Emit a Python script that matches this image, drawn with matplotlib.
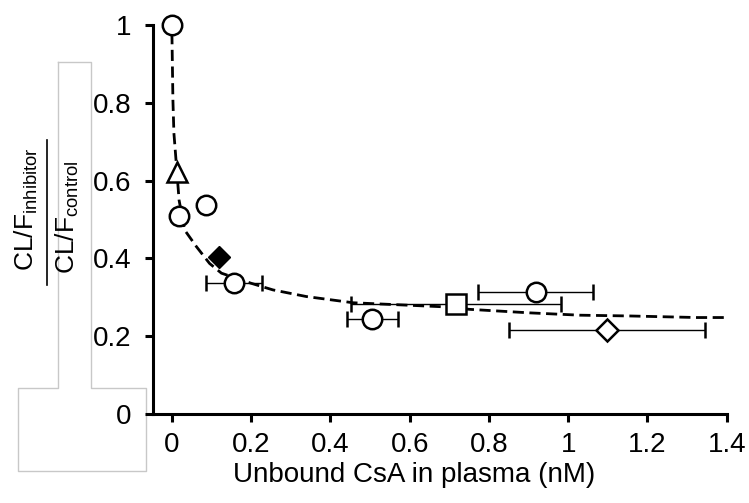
import numpy as np
import matplotlib
matplotlib.use("Agg")
import matplotlib.pyplot as plt
from matplotlib.lines import Line2D

plt.rcParams['font.family'] = ['Liberation Sans', 'DejaVu Sans']
plt.rcParams['mathtext.fontset'] = 'custom'
plt.rcParams['mathtext.rm'] = 'Liberation Sans'
plt.rcParams['mathtext.it'] = 'Liberation Sans'

# open circles (studies), with optional horizontal error
circ_x = [0.0, 0.018, 0.086, 0.157, 0.506, 0.918]
circ_y = [1.0, 0.509, 0.536, 0.338, 0.243, 0.314]
circ_xerr = [0.0, 0.0, 0.0, 0.07, 0.065, 0.145]

tri_x, tri_y = [0.012], [0.623]
fdia_x, fdia_y = [0.12], [0.403]
sq_x, sq_y, sq_xerr = [0.717], [0.282], [0.265]
odia_x, odia_y, odia_xerr = [1.098], [0.216], [0.248]

# dashed fitted curve
fit_x = [0.0, 0.0025, 0.005, 0.011, 0.018, 0.032, 0.062, 0.095, 0.125, 0.2,
         0.255, 0.339, 0.457, 0.676, 0.752, 0.903, 1.03, 1.156, 1.325, 1.404]
fit_y = [0.979, 0.807, 0.722, 0.644, 0.55, 0.473, 0.43, 0.387, 0.362, 0.336,
         0.319, 0.302, 0.286, 0.276, 0.269, 0.26, 0.254, 0.252, 0.248, 0.248]

x_ticks = [0, 0.2, 0.4, 0.6, 0.8, 1, 1.2, 1.4]
x_ticklabels = ['0', '0.2', '0.4', '0.6', '0.8', '1', '1.2', '1.4']
y_ticks = [0, 0.2, 0.4, 0.6, 0.8, 1]
y_ticklabels = ['0', '0.2', '0.4', '0.6', '0.8', '1']

W, H = 749, 503
fig = plt.figure(figsize=(W / 100, H / 100), dpi=100)

def fx(px):
    return px / W

def fy(py):
    return 1 - py / H

# grey outline left over in the original figure
poly_px = [(58, 62), (91, 62), (91, 388), (146, 388), (146, 471),
           (18, 471), (18, 388), (58, 388), (58, 62)]
fig.add_artist(Line2D([fx(p[0]) for p in poly_px], [fy(p[1]) for p in poly_px],
                      transform=fig.transFigure, color='#c8c8c8', lw=1.0, zorder=0))

ax = fig.add_axes([fx(153.3), fy(414), (726.7 - 153.3) / W, (414 - 25) / H])
ax.patch.set_alpha(0)

ax.plot(fit_x, fit_y, color='black', lw=2.0, ls=(0, (4, 2)), zorder=2)

mk = dict(markerfacecolor='white', markeredgecolor='black', markeredgewidth=1.8,
          ecolor='black', elinewidth=1.0, capsize=5.5, capthick=1.0, ls='none',
          clip_on=False, zorder=3)
for x, y, e in zip(circ_x, circ_y, circ_xerr):
    ax.errorbar([x], [y], xerr=[e] if e > 0 else None, marker='o', markersize=14, **mk)
ax.errorbar(sq_x, sq_y, xerr=sq_xerr, marker='s', markersize=14.5, **mk)
ax.errorbar(odia_x, odia_y, xerr=odia_xerr, marker='D', markersize=11, **mk)
ax.plot(tri_x, tri_y, marker='^', markersize=15, ls='none', markerfacecolor='white',
        markeredgecolor='black', markeredgewidth=1.8, zorder=3, clip_on=False)
ax.plot(fdia_x, fdia_y, marker='D', markersize=11.5, ls='none', color='black',
        zorder=3, clip_on=False)

ax.set_xlim(-0.047, 1.4)
ax.set_ylim(0, 1)
ax.set_xticks(x_ticks)
ax.set_xticklabels(x_ticklabels)
ax.set_yticks(y_ticks)
ax.set_yticklabels(y_ticklabels)
for s in ['top', 'right']:
    ax.spines[s].set_visible(False)
for s in ['left', 'bottom']:
    ax.spines[s].set_linewidth(2.2)
ax.tick_params(axis='both', direction='out', length=6, width=2.2, labelsize=20)
ax.tick_params(axis='y', pad=10)
ax.tick_params(axis='x', pad=7)

# x label
fig.text(fx(414), fy(482), 'Unbound CsA in plasma (nM)', fontsize=20,
         ha='center', va='baseline')

# y label: fraction built from two rotated texts and a bar
fig.text(fx(26), fy(209), r'CL/F$_{\mathrm{inhibitor}}$', rotation=90,
         ha='center', va='center', fontsize=19)
fig.text(fx(67), fy(217), r'CL/F$_{\mathrm{control}}$', rotation=90,
         ha='center', va='center', fontsize=19)
fig.add_artist(Line2D([fx(46.7), fx(46.7)], [fy(140), fy(285)],
                      transform=fig.transFigure, color='black', lw=1.2))

fig.savefig('out.png', dpi=100)
